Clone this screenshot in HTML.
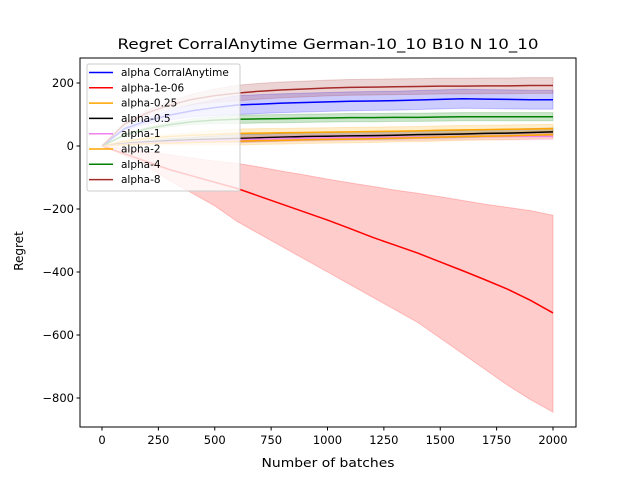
<!DOCTYPE html>
<html><head><meta charset="utf-8"><style>
body{margin:0;background:#fff;}
svg{font-family:"DejaVu Sans","Liberation Sans",sans-serif;}
</style></head><body>
<svg id="chart" width="640" height="480" viewBox="0 0 640 480">
<rect width="640" height="480" fill="#fff"/>
<g id="bands"></g><g id="lines"></g><g id="axes"></g><g id="legend"></g>
</svg>
<script>
const xs = [0,100,200,300,400,500,600,700,800,900,1000,1100,1200,1300,1400,1500,1600,1700,1800,1900,2000];
const names = ["alpha CorralAnytime","alpha-1e-06","alpha-0.25","alpha-0.5","alpha-1","alpha-2","alpha-4","alpha-8"];
const colors = ["blue","red","orange","black","violet","orange","green","brown"];
const meanBlue   = [0,55,80,98,112,122,130,133,136,138,140,142,143,144,146,148,150,149,148,147,147];
const meanRed    = [0,-25,-50,-75,-95,-115,-135,-160,-185,-210,-235,-262,-290,-315,-340,-368,-396,-425,-455,-490,-530];
const meanO25    = [0,15,24,30,34,37,40,41,42,43,44,45,46,47,48,50,51,52,53,54,55];
const meanBlack  = [0,8,13,17,20,22,24,26,28,30,31,32,33,34,36,37,38,40,41,43,45];
const meanViolet = [0,6,10,13,16,18,20,22,24,25,26,27,27,28,28,29,30,30,30,30,30];
const meanO2     = [0,4,7,9,11,13,15,17,18,20,21,22,23,25,26,28,30,31,32,34,36];
const meanGreen  = [0,35,55,68,77,82,85,86,87,88,89,90,90,91,91,92,93,93,93,93,93];
const meanBrown  = [0,70,105,130,148,160,168,174,178,181,184,186,187,188,189,190,190,191,191,192,192];
const upRed      = [0,-8,-18,-28,-38,-48,-55,-67,-80,-92,-105,-117,-128,-140,-150,-161,-173,-185,-195,-205,-220];
const lowRed     = [0,-30,-65,-110,-150,-190,-240,-280,-320,-360,-400,-440,-480,-520,-560,-610,-660,-710,-760,-805,-845];
const spreads = [30,0,14,12,10,12,13,25];

const means = [meanBlue,meanRed,meanO25,meanBlack,meanViolet,meanO2,meanGreen,meanBrown];
const xTicks = [0,250,500,750,1000,1250,1500,1750,2000];
const yTicks = [200,0,-200,-400,-600,-800];

const L=80,R=576,T=58,B=427;
const X=v=>102+v*(451/2000);
const Y=v=>146-v*0.315;
const NS="http://www.w3.org/2000/svg";
function mk(tag,attrs,parent){const e=document.createElementNS(NS,tag);for(const k in attrs)e.setAttribute(k,attrs[k]);parent.appendChild(e);return e;}
const bands=document.getElementById('bands'),lines=document.getElementById('lines'),axes=document.getElementById('axes'),legend=document.getElementById('legend');

means.forEach((m,i)=>{
  let up,lo;
  if(i===1){up=upRed;lo=lowRed;}
  else{up=m.map((v,j)=>v+spreads[i]*Math.min(1,xs[j]/600));lo=m.map((v,j)=>v-spreads[i]*Math.min(1,xs[j]/600));}
  let d="M"+xs.map((x,j)=>X(x)+","+Y(up[j])).join("L")+"L"+xs.slice().reverse().map((x,j)=>X(x)+","+Y(lo[lo.length-1-j])).join("L")+"Z";
  const p=mk('path',{d:d,fill:colors[i],'fill-opacity':0.2,stroke:colors[i],'stroke-opacity':0.2,'stroke-width':1},bands);
  
  
});
means.forEach((m,i)=>{
  const p=mk('polyline',{points:xs.map((x,j)=>X(x)+","+Y(m[j])).join(" "),fill:"none",stroke:colors[i],'stroke-width':1.5},lines);
  
  
});

const frame=mk('rect',{x:L,y:T,width:R-L,height:B-T,fill:"none",stroke:"#000",'stroke-width':1},axes);


xTicks.forEach(t=>{
  mk('line',{x1:X(t),x2:X(t),y1:B,y2:B+3.5,stroke:"#000"},axes);
  const tx=mk('text',{x:X(t),y:B+17,'text-anchor':'middle','font-size':11.5},axes);tx.textContent=t;
  
  
});
yTicks.forEach(t=>{
  mk('line',{x1:L-3.5,x2:L,y1:Y(t),y2:Y(t),stroke:"#000"},axes);
  const tx=mk('text',{x:L-6,y:Y(t)+4,'text-anchor':'end','font-size':11.5},axes);tx.textContent=t===0?"0":(t<0?"\u2212"+(-t):t);
  
  
});
let t1=mk('text',{x:328,y:49,'text-anchor':'middle','font-size':14.5,textLength:421,lengthAdjust:'spacingAndGlyphs'},axes);t1.textContent="Regret CorralAnytime German-10_10 B10 N 10_10";


let t2=mk('text',{x:328,y:467,'text-anchor':'middle','font-size':12.5,textLength:133,lengthAdjust:'spacingAndGlyphs'},axes);t2.textContent="Number of batches";


let t3=mk('text',{x:23,y:251,'text-anchor':'middle','font-size':12,transform:'rotate(-90 23 251)'},axes);t3.textContent="Regret";



const lb=mk('rect',{x:87,y:64,width:153,height:127,rx:2,fill:"#fff",'fill-opacity':0.8,stroke:"#ccc"},legend);


names.forEach((n,i)=>{
  const y=72.5+i*15.3;
  const g=mk('g',{},legend);
  
  
  mk('line',{x1:89,x2:113,y1:y,y2:y,stroke:colors[i],'stroke-width':1.5},g);
  const t=mk('text',{x:121,y:y+3.5,'font-size':10.5},g);t.textContent=n;
});
</script>
</body></html>
